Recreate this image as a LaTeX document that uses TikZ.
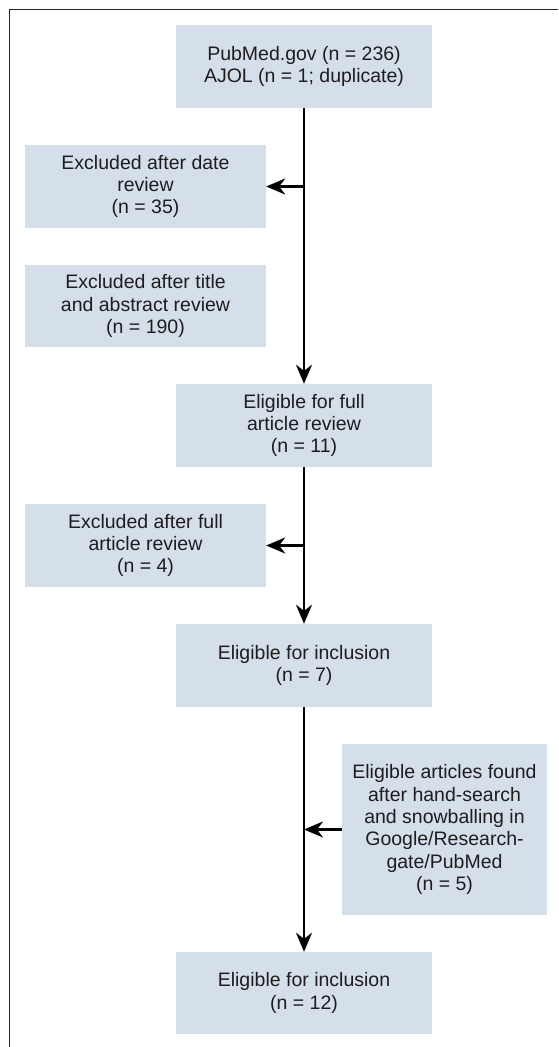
\documentclass[tikz,border=0pt]{standalone}
\usepackage{fontspec}
\setmainfont{Liberation Sans}
\usetikzlibrary{arrows.meta}
\definecolor{boxfill}{RGB}{213,223,233}
\definecolor{ink}{RGB}{30,28,30}
\tikzset{
  flowbox/.style={fill=boxfill, draw=none, inner sep=0pt, align=center,
    text=ink, font=\fontsize{19.5}{22.3}\selectfont},
  midbox/.style={flowbox, minimum width=256pt, minimum height=83pt},
  sidebox/.style={flowbox, minimum width=241pt, minimum height=83pt},
  flowarrow/.style={draw=black, line width=2.5pt,
    -{Stealth[length=19pt, width=16pt, inset=6pt]}},
  frameline/.style={draw=black!85, line width=1.6pt}
}
\begin{document}
\begin{tikzpicture}[x=1pt, y=-1pt]
\useasboundingbox (0,0) rectangle (558,1047);
\draw[frameline] (9.5,1047) -- (9.5,9.5) -- (558,9.5);

\node[midbox] (src) at (304,66.5) {PubMed.gov (n = 236)\\AJOL (n = 1; duplicate)};
\node[sidebox] (date) at (145.5,186.5) {Excluded after date\\review\\(n = 35)};
\node[sidebox, minimum height=82pt] (title) at (145.5,306) {Excluded after title\\and abstract review\\(n = 190)};
\node[midbox] (full) at (304,425.5) {Eligible for full\\article review\\(n = 11)};
\node[sidebox] (exfull) at (145.5,545.5) {Excluded after full\\article review\\(n = 4)};
\node[midbox] (incl7) at (304,665.5) {Eligible for inclusion\\(n = 7)};
\node[flowbox, minimum width=205pt, minimum height=171pt] (hand) at (444.5,829.5)
  {Eligible articles found\\after hand-search\\and snowballing in\\Google/Research-\\gate/PubMed\\(n = 5)};
\node[midbox, minimum height=82pt] (incl12) at (304,993) {Eligible for inclusion\\(n = 12)};

\coordinate (j1) at (src.south |- date.east);
\coordinate (j2) at (full.south |- exfull.east);
\coordinate (j3) at (incl7.south |- hand.west);

\draw[flowarrow] (src.south) -- (full.north);
\draw[flowarrow] (j1) -- (date.east);
\draw[flowarrow] (full.south) -- (incl7.north);
\draw[flowarrow] (j2) -- (exfull.east);
\draw[flowarrow] (incl7.south) -- (incl12.north);
\draw[flowarrow] (hand.west) -- (j3);
\end{tikzpicture}
\end{document}
